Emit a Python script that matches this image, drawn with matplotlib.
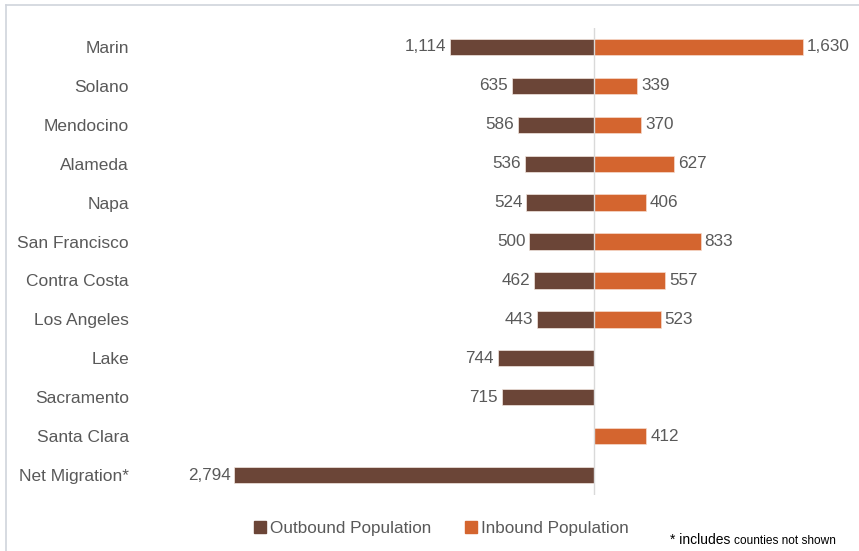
import numpy as np
import matplotlib.pyplot as plt
from matplotlib.lines import Line2D

plt.rcParams['font.family'] = ['Liberation Sans', 'DejaVu Sans']

# Migration by county (persons)
counties = ['Marin', 'Solano', 'Mendocino', 'Alameda', 'Napa', 'San Francisco',
            'Contra Costa', 'Los Angeles', 'Lake', 'Sacramento', 'Santa Clara',
            'Net Migration*']
outbound = [1114, 635, 586, 536, 524, 500, 462, 443, 744, 715, 0, 2794]
inbound = [1630, 339, 370, 627, 406, 833, 557, 523, 0, 0, 412, 0]

c_out = '#6B4537'
c_in = '#D4652F'
c_txt = '#595959'

fig = plt.figure(figsize=(8.59, 5.51), dpi=100)
ax = fig.add_axes([140/859, 1-494.5/551, 710/859, 467/551])

y = np.arange(len(counties))
h = 0.42
ax.barh(y, [-v for v in outbound], height=h, color=c_out, edgecolor='#f2e6e0', linewidth=0.5)
ax.barh(y, inbound, height=h, color=c_in, edgecolor='#f7dccd', linewidth=0.5)

for i in range(len(counties)):
    if outbound[i]:
        ax.text(-outbound[i] - 30, y[i], f'{outbound[i]:,}', ha='right', va='center',
                fontsize=12.3, color=c_txt)
    if inbound[i]:
        ax.text(inbound[i] + 30, y[i], f'{inbound[i]:,}', ha='left', va='center',
                fontsize=12.3, color=c_txt)

ax.axvline(0, color='#D9D9D9', linewidth=1)
ax.set_xlim(-3529, 1996)
ax.set_ylim(len(counties) - 0.5, -0.5)
ax.set_yticks(y)
ax.set_yticklabels(counties, fontsize=12.5, color=c_txt)
ax.tick_params(axis='y', length=0, pad=8)
ax.set_xticks([])
for s in ax.spines.values():
    s.set_visible(False)

handles = [Line2D([], [], marker='s', linestyle='', color=c_out, markersize=8),
           Line2D([], [], marker='s', linestyle='', color=c_in, markersize=8)]
leg = fig.legend(handles, ['Outbound Population', 'Inbound Population'],
                 loc='center', bbox_to_anchor=(442/859, 1-528/551), ncol=2,
                 frameon=False, fontsize=12.3, handlelength=0.6, handletextpad=0.3,
                 columnspacing=2.0)
for t in leg.get_texts():
    t.set_color(c_txt)

fig.text(670/859, 1-540/551, '* includes', fontsize=10, color='black', va='center')
fig.text(734/859, 1-540.5/551, 'counties not shown', fontsize=8.6, color='black', va='center')

# thin frame on top and left edges
fig.add_artist(Line2D([6/859, 1], [1-5/551, 1-5/551], color='#D0D4DC', linewidth=1.2))
fig.add_artist(Line2D([6/859, 6/859], [0, 1-5/551], color='#D0D4DC', linewidth=1.2))

fig.savefig('out.png', dpi=100)
